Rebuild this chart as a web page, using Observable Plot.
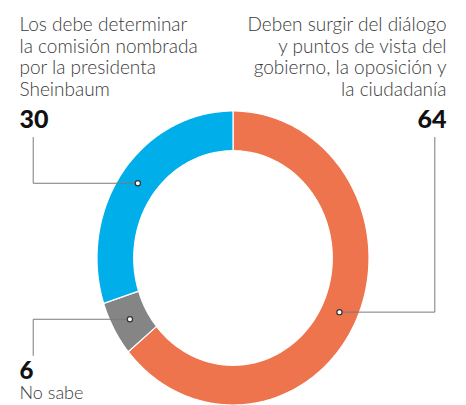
<!DOCTYPE html>
<html><head><meta charset="utf-8">
<script src="https://cdn.jsdelivr.net/npm/d3@7"></script>
<script src="https://cdn.jsdelivr.net/npm/@observablehq/plot@0.6"></script>
<style>body{margin:0;background:#fff}</style>
</head><body><div id="chart"></div>
<script>
// Data
const categories = ["Diálogo", "No sabe", "Comisión"];
const values = [64, 6, 30];
const valueLabels = ["64", "6", "30"];
const colors = ["#EE744E", "#858585", "#00AEEA"];
const rightLabel = "Deben surgir del diálogo\ny puntos de vista del\ngobierno, la oposición y\nla ciudadanía";
const leftLabel = "Los debe determinar\nla comisión nombrada\npor la presidenta\nSheinbaum";
const bottomLabel = "No sabe";

// Layout (data units of the donut frame)
const INNER = 0.73;
const leaderX = [1.484, -1.469, -1.469];
const leaderEndY = [0.82, -0.663, 0.82];

const total = d3.sum(values);
const slices = [];
const dots = [];
const leaders = [];
let cum = 0;
values.forEach((v, i) => {
  const a0 = cum / total * 2 * Math.PI;
  cum += v;
  const a1 = cum / total * 2 * Math.PI;
  const n = Math.max(4, Math.ceil((a1 - a0) / (Math.PI / 180)));
  for (let k = 0; k <= n; k++) {
    const a = a0 + (a1 - a0) * k / n;
    slices.push({name: categories[i], x: Math.sin(a), y: Math.cos(a)});
  }
  for (let k = n; k >= 0; k--) {
    const a = a0 + (a1 - a0) * k / n;
    slices.push({name: categories[i], x: INNER * Math.sin(a), y: INNER * Math.cos(a)});
  }
  const am = (a0 + a1) / 2, r = (1 + INNER) / 2;
  const d = {name: categories[i], x: r * Math.sin(am), y: r * Math.cos(am)};
  dots.push(d);
  leaders.push({name: categories[i], x: d.x, y: d.y});
  leaders.push({name: categories[i], x: leaderX[i], y: d.y});
  leaders.push({name: categories[i], x: leaderX[i], y: leaderEndY[i]});
});

const textFont = "Lato, 'Open Sans', sans-serif";
const chart = Plot.plot({
  width: 466,
  height: 405,
  margin: 0,
  x: {domain: [-1, 1], range: [96.5, 368.5], axis: null},
  y: {domain: [-1, 1], range: [404.5, 110.5], axis: null},
  color: {domain: categories, range: colors},
  style: {background: "#fff", overflow: "visible"},
  marks: [
    Plot.line(slices, {x: "x", y: "y", z: "name", fill: "name", stroke: "#fff", strokeWidth: 1.2, curve: "linear-closed"}),
    Plot.line(leaders, {x: "x", y: "y", z: "name", stroke: "#7a7a7a", strokeWidth: 1}),
    Plot.dot(dots, {x: "x", y: "y", r: 2.6, fill: "#fff", stroke: "#333", strokeWidth: 1.2}),
    Plot.text([leftLabel], {frameAnchor: "top-left", dx: 19, dy: 15, lineAnchor: "top", textAnchor: "start", fontSize: 19, lineHeight: 1.14, fontFamily: textFont, fontWeight: 300, fill: "#3a3a3a"}),
    Plot.text([rightLabel], {frameAnchor: "top-right", dx: -20, dy: 15, lineAnchor: "top", textAnchor: "end", fontSize: 19, lineHeight: 1.14, fontFamily: textFont, fontWeight: 300, fill: "#3a3a3a"}),
    Plot.text([valueLabels[2]], {frameAnchor: "top-left", dx: 19, dy: 110, lineAnchor: "top", textAnchor: "start", fontSize: 25, fontFamily: textFont, fontWeight: 900, fill: "#111"}),
    Plot.text([valueLabels[0]], {frameAnchor: "top-right", dx: -20, dy: 110, lineAnchor: "top", textAnchor: "end", fontSize: 25, fontFamily: textFont, fontWeight: 900, fill: "#111"}),
    Plot.text([valueLabels[1]], {frameAnchor: "top-left", dx: 19, dy: 361, lineAnchor: "top", textAnchor: "start", fontSize: 24, fontFamily: textFont, fontWeight: 900, fill: "#111"}),
    Plot.text([bottomLabel], {frameAnchor: "top-left", dx: 19, dy: 386, lineAnchor: "top", textAnchor: "start", fontSize: 18, fontFamily: textFont, fontWeight: 300, fill: "#3a3a3a"})
  ]
});
document.getElementById("chart").append(chart);
</script>
</body></html>
